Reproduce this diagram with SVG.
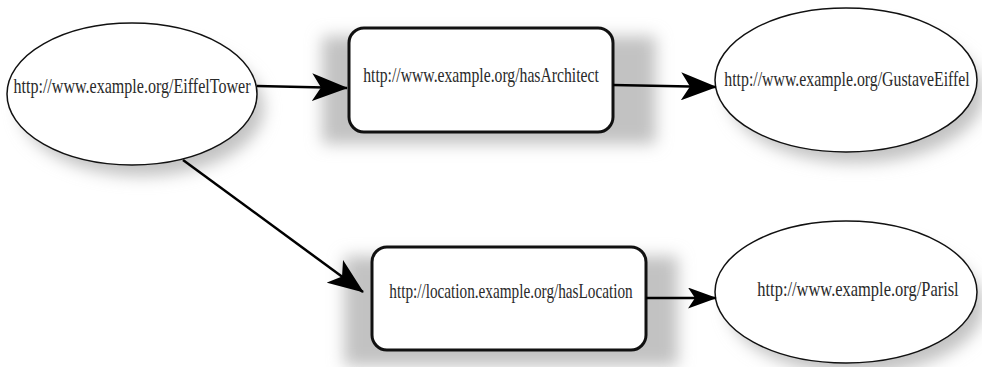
<svg xmlns="http://www.w3.org/2000/svg" width="982" height="367" viewBox="0 0 982 367">
<defs>
<filter id="blur" x="-30%" y="-30%" width="160%" height="160%"><feGaussianBlur stdDeviation="8"/></filter>
<marker id="ah" markerUnits="userSpaceOnUse" viewBox="0 0 36 28" refX="35" refY="14" markerWidth="36" markerHeight="28" orient="auto"><path d="M0,0 L36,14 L0,28 L9,14 Z" fill="#000"/></marker>
<marker id="ahs" markerUnits="userSpaceOnUse" viewBox="0 0 29 21" refX="28" refY="10.5" markerWidth="29" markerHeight="21" orient="auto"><path d="M0,0 L29,10.5 L0,21 L7,10.5 Z" fill="#000"/></marker>
</defs>
<style>
.sh{fill:#c2c2c2;filter:url(#blur)}
.el{fill:#fff;stroke:#111;stroke-width:1.5}
.bx{fill:#fff;stroke:#111;stroke-width:3}
.t{font-family:"Liberation Serif","DejaVu Serif",serif;font-size:22px;fill:#2a2a2a;text-anchor:middle}
.c{fill:none;stroke:#000;stroke-width:2.5}
</style>
<rect width="982" height="367" fill="#fff"/>
<g id="n-eiffeltower">
<ellipse class="sh" cx="142" cy="108" rx="122" ry="68"/>
<ellipse class="el" cx="132" cy="94" rx="125" ry="71"/>
<text class="t" transform="translate(132,93) scale(0.73,1)" x="0" y="0">http://www.example.org/EiffelTower</text>
</g>
<g id="n-hasarchitect">
<rect class="sh" x="322" y="36" width="334" height="108" rx="4"/>
<rect class="bx" x="349" y="28" width="264" height="104" rx="15"/>
<text class="t" transform="translate(481,82) scale(0.713,1)" x="0" y="0">http://www.example.org/hasArchitect</text>
</g>
<g id="n-gustaveeiffel">
<ellipse class="sh" cx="856" cy="94" rx="128" ry="69"/>
<ellipse class="el" cx="846" cy="80" rx="131" ry="72"/>
<text class="t" transform="translate(847,86) scale(0.72,1)" x="0" y="0">http://www.example.org/GustaveEiffel</text>
</g>
<g id="n-haslocation">
<rect class="sh" x="344" y="256" width="334" height="110" rx="4"/>
<rect class="bx" x="372" y="247" width="274" height="103" rx="15"/>
<text class="t" transform="translate(511,298) scale(0.693,1)" x="0" y="0">http://location.example.org/hasLocation</text>
</g>
<g id="n-paris">
<ellipse class="sh" cx="856" cy="306" rx="128" ry="68"/>
<ellipse class="el" cx="846" cy="292" rx="131" ry="71"/>
<text class="t" transform="translate(858,296) scale(0.748,1)" x="0" y="0">http://www.example.org/Parisl</text>
</g>
<g id="connectors">
<line class="c" x1="257" y1="86" x2="347" y2="88" marker-end="url(#ah)"/>
<line class="c" x1="613" y1="85" x2="716" y2="87" marker-end="url(#ah)"/>
<line class="c" x1="183" y1="160" x2="363" y2="292" marker-end="url(#ah)"/>
<line class="c" x1="646" y1="298" x2="716" y2="298" marker-end="url(#ahs)"/>
</g>
</svg>
